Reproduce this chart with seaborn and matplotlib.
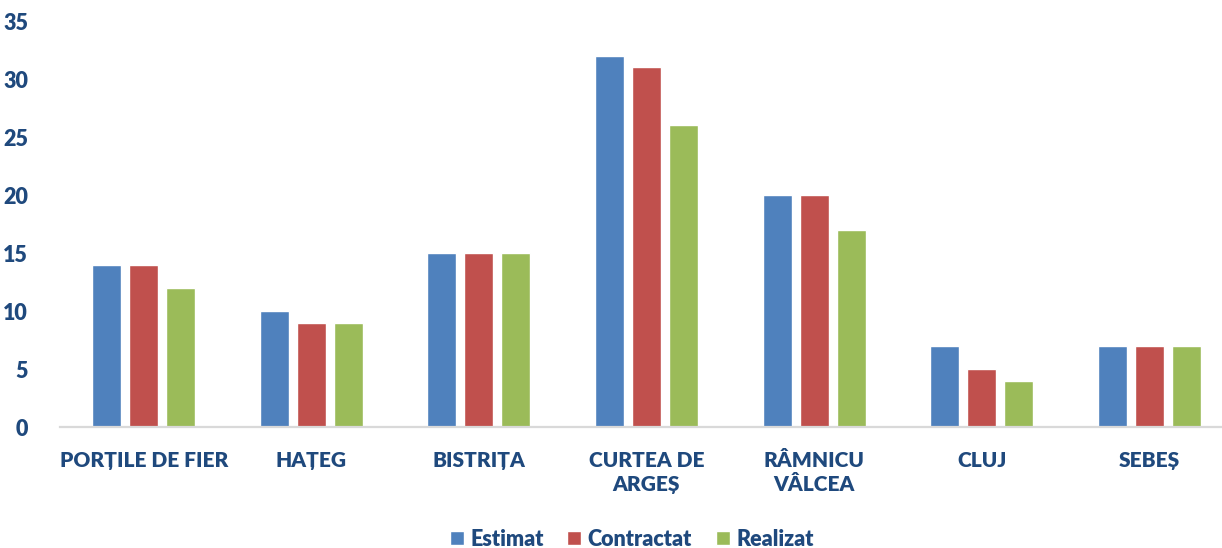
import pandas as pd
import matplotlib
matplotlib.use('Agg')
import matplotlib.pyplot as plt
import seaborn as sns

# date
categorii = ['PORȚILE DE FIER', 'HAȚEG', 'BISTRIȚA', 'CURTEA DE\nARGEȘ',
             'RÂMNICU\nVÂLCEA', 'CLUJ', 'SEBEȘ']
estimat = [14, 10, 15, 32, 20, 7, 7]
contractat = [14, 9, 15, 31, 20, 5, 7]
realizat = [12, 9, 15, 26, 17, 4, 7]
serii = ['Estimat', 'Contractat', 'Realizat']
culori = ['#4F81BD', '#C0504D', '#9BBB59']
yticks = [0, 5, 10, 15, 20, 25, 30, 35]

text_col = '#1F497D'
fs = 15.5

sns.set_style('white')
plt.rcParams['font.family'] = ['Lato', 'DejaVu Sans']
plt.rcParams['font.weight'] = 'bold'

df = pd.DataFrame({
    'categorie': categorii * 3,
    'serie': [s for s in serii for _ in categorii],
    'valoare': estimat + contractat + realizat,
})

fig = plt.figure(figsize=(12.22, 5.48), dpi=100)
ax = fig.add_axes([60 / 1222, 1 - 427 / 548, 1173 / 1222, 406 / 548])

sns.barplot(data=df, x='categorie', y='valoare', hue='serie', order=categorii,
            hue_order=serii, palette=culori, width=0.663, gap=0.217,
            saturation=1, ax=ax, legend=True)

ax.set_ylim(0, 35)
ax.set_xlim(-0.5, 6.5)
ax.set_yticks(yticks)
ax.set_xlabel('')
ax.set_ylabel('')
for s in ['top', 'right', 'left']:
    ax.spines[s].set_visible(False)
ax.spines['bottom'].set_color('#D9D9D9')
ax.spines['bottom'].set_linewidth(1.6)
ax.tick_params(axis='both', length=0, labelcolor=text_col)
ax.tick_params(axis='y', pad=23, labelsize=fs)
ax.tick_params(axis='x', pad=17, labelsize=15)
for lbl in ax.get_xticklabels() + ax.get_yticklabels():
    lbl.set_fontweight('heavy')
for lbl in ax.get_xticklabels():
    lbl.set_linespacing(1.35)

handles, labels = ax.get_legend_handles_labels()
ax.get_legend().remove()
leg = fig.legend(handles, labels, loc='center', bbox_to_anchor=(0.517, 0.016),
                 ncol=3, frameon=False, fontsize=fs, handlelength=0.65,
                 handleheight=0.65, handletextpad=0.3, columnspacing=1.1)
for t in leg.get_texts():
    t.set_color(text_col)
    t.set_fontweight('heavy')

fig.savefig('out.png', dpi=100)
